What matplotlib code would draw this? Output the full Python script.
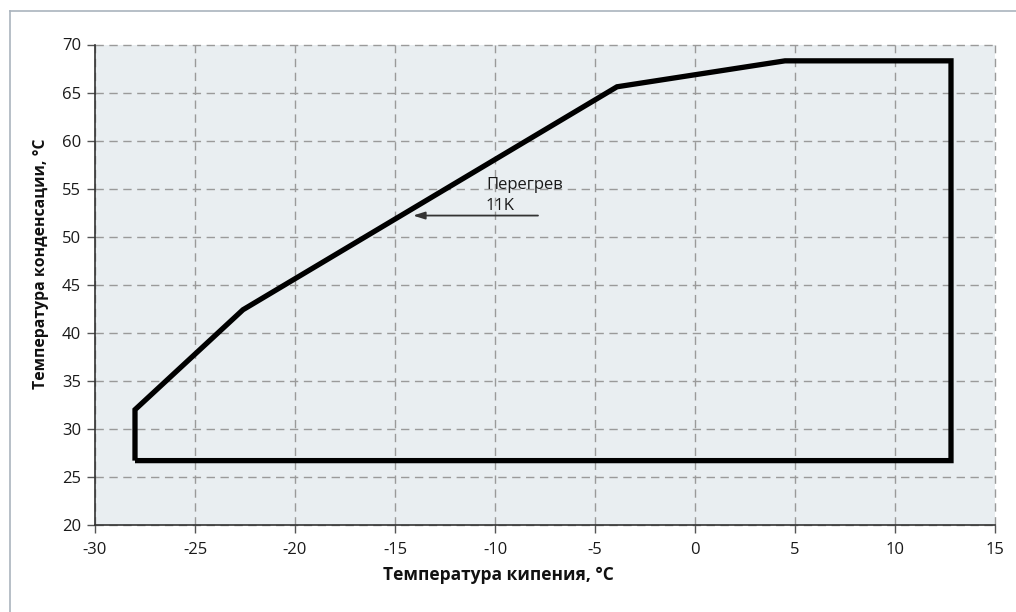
import matplotlib
matplotlib.use("Agg")
import matplotlib.pyplot as plt
from matplotlib.lines import Line2D

# Envelope data (evaporating temp, condensing temp)
evap_temp = [-28.0, -28.0, -22.6, -3.9, 4.5, 12.8, 12.8, -28.0]
cond_temp = [26.7, 32.0, 42.4, 65.6, 68.3, 68.3, 26.7, 26.7]

x_ticks = [-30, -25, -20, -15, -10, -5, 0, 5, 10, 15]
y_ticks = [20, 25, 30, 35, 40, 45, 50, 55, 60, 65, 70]

annot_text = "Перегрев\n11K"
arrow_start = (-7.85, 52.2)
arrow_end = (-14.1, 52.2)

plt.rcParams['font.family'] = ['Open Sans', 'DejaVu Sans']

fig = plt.figure(figsize=(10.16, 6.12), dpi=100)
fig.patch.set_facecolor('white')
ax = fig.add_axes([95/1016, 1 - 525/612, 900/1016, 480.5/612])
ax.set_facecolor('#e9eef1')

ax.set_xlim(-30, 15)
ax.set_ylim(20, 70)
ax.set_xticks(x_ticks)
ax.set_yticks(y_ticks)
ax.set_xticklabels([str(t) for t in x_ticks])
ax.set_yticklabels([str(t) for t in y_ticks])

ax.grid(True, color='#9a9a9a', linestyle=(0, (6, 4)), linewidth=1.0)
for gl in ax.get_xgridlines() + ax.get_ygridlines():
    gl.set_clip_on(False)
ax.set_axisbelow(True)

for s in ['top', 'right']:
    ax.spines[s].set_visible(False)
for s in ['left', 'bottom']:
    ax.spines[s].set_color('#333333')
    ax.spines[s].set_linewidth(1.2)

ax.tick_params(axis='both', direction='out', length=6, width=1.0, color='#555555',
               labelsize=12, labelcolor='#1a1a1a')
ax.tick_params(axis='x', pad=6)
ax.tick_params(axis='y', pad=4)

ax.plot(evap_temp, cond_temp, color='black', linewidth=3.8,
        solid_joinstyle='miter', solid_capstyle='butt', zorder=3)

ax.text(-10.45, 54.3, annot_text, fontsize=12, color='#1a1a1a',
        ha='left', va='center', linespacing=1.45, zorder=4)
ax.annotate('', xy=arrow_end, xytext=arrow_start,
            arrowprops=dict(arrowstyle='-|>,head_length=0.7,head_width=0.22',
                            color='#333333', linewidth=1.3, shrinkA=0, shrinkB=0),
            zorder=4)

fig.text(498/1016, 1 - 575/612, 'Температура кипения, °C', fontsize=12.5,
         fontweight='bold', ha='center', va='center', color='#111111')
fig.text(41/1016, 1 - 264/612, 'Температура конденсации, °C', fontsize=11.3,
         fontweight='bold', ha='center', va='center', rotation=90, color='#111111')

# outer frame (only left and top visible in the reference)
fig.add_artist(Line2D([9.5/1016, 9.5/1016], [0, 1 - 11/612], color='#aab4be', linewidth=1.2))
fig.add_artist(Line2D([9.5/1016, 1], [1 - 11/612, 1 - 11/612], color='#aab4be', linewidth=1.2))

fig.savefig('out.png', dpi=100, facecolor='white')
